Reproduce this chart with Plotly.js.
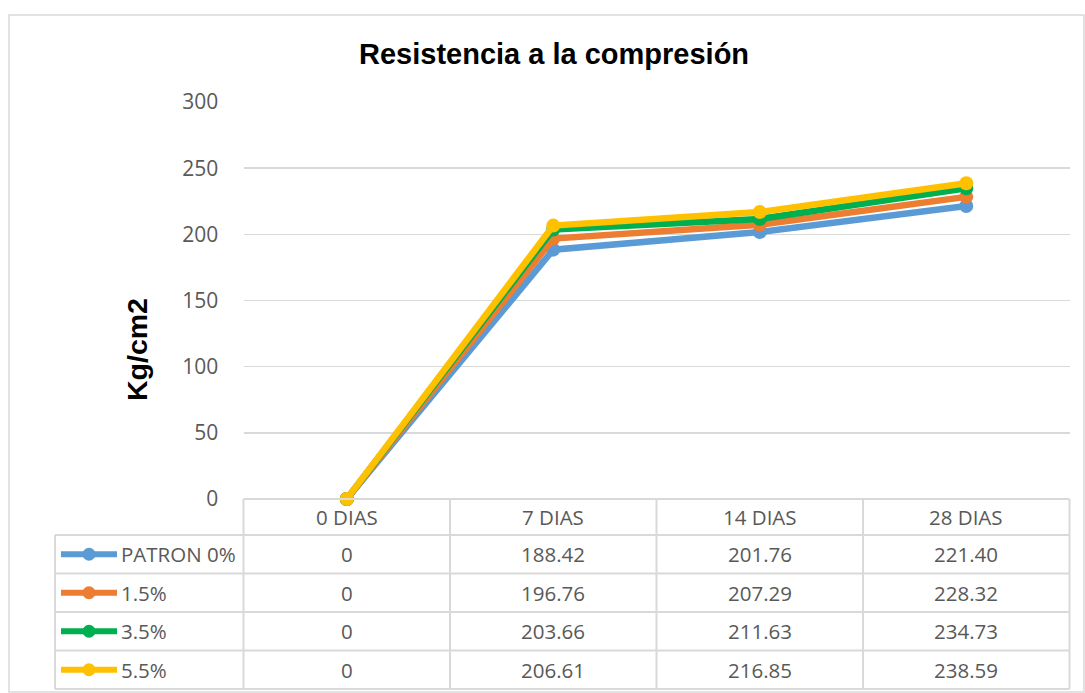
<!DOCTYPE html>
<html>
<head>
<meta charset="utf-8">
<script src="https://cdn.plot.ly/plotly-3.0.1.min.js"></script>
<style>html,body{margin:0;padding:0;background:#fff;}#chart{width:1085px;height:693px;}</style>
</head>
<body>
<div id="chart"></div>
<script>
const categories = ["0 DIAS", "7 DIAS", "14 DIAS", "28 DIAS"];
const seriesNames = ["PATRON 0%", "1.5%", "3.5%", "5.5%"];
const patron = [0, 188.42, 201.76, 221.40];
const s15 = [0, 196.76, 207.29, 228.32];
const s35 = [0, 203.66, 211.63, 234.73];
const s55 = [0, 206.61, 216.85, 238.59];
const colors = ["#5B9BD5", "#ED7D31", "#00B050", "#FFC000"];
const yTicks = [0, 50, 100, 150, 200, 250, 300];

const W = 1085, H = 693;
const px = v => v / W;
const py = v => 1 - v / H;

const allSeries = [patron, s15, s35, s55];
const traces = allSeries.map((vals, i) => ({
  type: "scatter", mode: "lines+markers",
  x: categories, y: vals, name: seriesNames[i],
  line: {color: colors[i], width: 6.5},
  marker: {color: colors[i], size: 14},
  cliponaxis: false, showlegend: false
}));

const plotL = 243.5, plotR = 1069.5, plotT = 102, plotB = 499;
const colW = (plotR - plotL) / categories.length;
const rowTops = [535, 573.5, 612, 650.5, 689];
const grid = "#D9D9D9";
const shapes = [];
shapes.push({type: "rect", xref: "paper", yref: "paper", x0: px(9), x1: px(1084), y0: py(15), y1: py(692), line: {color: "#D9D9D9", width: 1.5}});
shapes.push({type: "line", xref: "paper", yref: "paper", x0: px(plotL), x1: px(plotR), y0: py(plotB), y1: py(plotB), line: {color: grid, width: 2}});
rowTops.forEach(y => shapes.push({type: "line", xref: "paper", yref: "paper", x0: px(55), x1: px(plotR), y0: py(y), y1: py(y), line: {color: grid, width: 2}}));
for (let c = 0; c <= categories.length; c++) {
  const x = plotL + c * colW;
  shapes.push({type: "line", xref: "paper", yref: "paper", x0: px(x), x1: px(x), y0: py(plotB), y1: py(689), line: {color: grid, width: 2}});
}
shapes.push({type: "line", xref: "paper", yref: "paper", x0: px(55), x1: px(55), y0: py(535), y1: py(689), line: {color: grid, width: 2}});

const annotations = [];
annotations.push({text: "<b>Resistencia a la compresión</b>", xref: "paper", yref: "paper", x: px(554), y: py(54), xanchor: "center", yanchor: "middle", showarrow: false, font: {family: "Liberation Sans, Arial", size: 29, color: "#000"}});
annotations.push({text: "<b>Kg/cm2</b>", xref: "paper", yref: "paper", x: px(137), y: py(350), xanchor: "center", yanchor: "middle", textangle: -90, showarrow: false, font: {family: "Liberation Sans, Arial", size: 28.5, color: "#000"}});
const tblFont = {family: "Open Sans, Noto Sans, sans-serif", size: 20.5, color: "#595959"};
categories.forEach(c => annotations.push({text: c, xref: "x", yref: "paper", x: c, y: py(517), xanchor: "center", yanchor: "middle", showarrow: false, font: tblFont}));
allSeries.forEach((vals, r) => {
  const cy = (rowTops[r] + rowTops[r + 1]) / 2;
  vals.forEach((v, c) => annotations.push({text: v === 0 ? "0" : v.toFixed(2), xref: "x", yref: "paper", x: categories[c], y: py(cy), xanchor: "center", yanchor: "middle", showarrow: false, font: tblFont}));
  annotations.push({text: seriesNames[r], xref: "paper", yref: "paper", x: px(119), y: py(cy), xanchor: "left", yanchor: "middle", showarrow: false, font: tblFont});
  shapes.push({type: "line", xref: "paper", yref: "paper", x0: px(61), x1: px(117), y0: py(cy), y1: py(cy), line: {color: colors[r], width: 6}});
  shapes.push({type: "circle", xref: "paper", yref: "paper", x0: px(82.5), x1: px(95.5), y0: py(cy - 6.5), y1: py(cy + 6.5), fillcolor: colors[r], line: {color: colors[r], width: 0}});
});

const layout = {
  width: W, height: H,
  margin: {l: 0, r: 0, t: 0, b: 0},
  paper_bgcolor: "#fff", plot_bgcolor: "#fff",
  showlegend: false,
  xaxis: {domain: [px(plotL), px(plotR)], type: "category", categoryarray: categories, range: [-0.5, 3.5], showticklabels: false, showgrid: false, zeroline: false, showline: false, fixedrange: true},
  yaxis: {domain: [py(plotB), py(plotT)], range: [0, 300], tickvals: yTicks, showgrid: true, gridcolor: grid, gridwidth: 1.5, zeroline: false, showline: false,
    ticks: "outside", ticklen: 20, tickcolor: "rgba(0,0,0,0)", tickfont: {family: "Open Sans, Noto Sans, sans-serif", size: 21, color: "#595959"}, fixedrange: true},
  shapes: shapes, annotations: annotations
};
Plotly.newPlot("chart", traces, layout, {displayModeBar: false, staticPlot: true});
</script>
</body>
</html>
